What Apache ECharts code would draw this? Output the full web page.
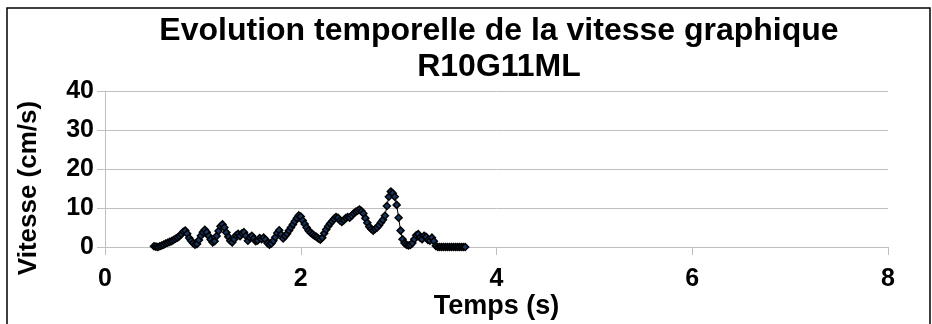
<!DOCTYPE html>
<html>
<head>
<meta charset="utf-8">
<script src="https://cdn.jsdelivr.net/npm/echarts@6/dist/echarts.min.js"></script>
<style>
  html, body { margin: 0; padding: 0; background: #fff; }
  #chart { width: 932px; height: 324px; }
</style>
</head>
<body>
<div id="chart"></div>
<script>
// time (s)
const temps = [
  0.50, 0.52, 0.54, 0.56, 0.58, 0.60, 0.62, 0.64, 0.66, 0.68,
  0.70, 0.72, 0.74, 0.76, 0.78, 0.80, 0.82, 0.84, 0.86, 0.88,
  0.90, 0.92, 0.94, 0.96, 0.98, 1.00, 1.02, 1.04, 1.06, 1.08,
  1.10, 1.12, 1.14, 1.16, 1.18, 1.20, 1.22, 1.24, 1.26, 1.28,
  1.30, 1.32, 1.34, 1.36, 1.38, 1.40, 1.42, 1.44, 1.46, 1.48,
  1.50, 1.52, 1.54, 1.56, 1.58, 1.60, 1.62, 1.64, 1.66, 1.68,
  1.70, 1.72, 1.74, 1.76, 1.78, 1.80, 1.82, 1.84, 1.86, 1.88,
  1.90, 1.92, 1.94, 1.96, 1.98, 2.00, 2.02, 2.04, 2.06, 2.08,
  2.10, 2.12, 2.14, 2.16, 2.18, 2.20, 2.22, 2.24, 2.26, 2.28,
  2.30, 2.32, 2.34, 2.36, 2.38, 2.40, 2.42, 2.44, 2.46, 2.48,
  2.50, 2.52, 2.54, 2.56, 2.58, 2.60, 2.62, 2.64, 2.66, 2.68,
  2.70, 2.72, 2.74, 2.76, 2.78, 2.80, 2.82, 2.84, 2.86, 2.88,
  2.90, 2.92, 2.94, 2.96, 2.98, 3.00, 3.02, 3.04, 3.06, 3.08,
  3.10, 3.12, 3.14, 3.16, 3.18, 3.20, 3.22, 3.24, 3.26, 3.28,
  3.30, 3.32, 3.34, 3.36, 3.38, 3.40, 3.42, 3.44, 3.46, 3.48,
  3.50, 3.52, 3.54, 3.56, 3.58, 3.60, 3.62, 3.64, 3.66, 3.68
];

// speed (cm/s)
const vitesse = [
  0.2, 0.1, 0.0, 0.2, 0.4, 0.6, 0.9, 1.1, 1.3, 1.5,
  1.8, 2.1, 2.4, 2.8, 3.3, 3.9, 4.2, 3.4, 2.3, 1.6,
  1.0, 0.6, 0.8, 1.8, 2.9, 3.8, 4.4, 3.8, 2.8, 1.9,
  1.2, 1.5, 2.8, 4.1, 5.3, 5.8, 5.0, 3.7, 2.6, 1.6,
  1.2, 2.0, 3.0, 3.4, 2.8, 3.5, 3.8, 2.9, 1.6, 2.4,
  2.9, 2.2, 1.5, 1.7, 2.3, 2.0, 2.4, 1.9, 1.0, 0.6,
  0.9, 1.6, 2.5, 3.6, 4.3, 3.2, 2.2, 2.8, 3.4, 4.2,
  5.0, 5.8, 6.6, 7.4, 8.1, 7.8, 6.8, 5.9, 5.0, 4.2,
  3.7, 3.3, 2.9, 2.6, 2.2, 1.9, 2.4, 3.5, 4.5, 5.3,
  6.0, 6.6, 7.2, 7.7, 7.5, 6.8, 6.4, 6.9, 7.4, 7.7,
  7.5, 8.0, 8.6, 9.0, 9.3, 9.6, 9.2, 8.6, 7.4, 6.2,
  5.2, 4.6, 4.2, 4.6, 5.0, 5.6, 6.3, 7.0, 8.0, 10.5,
  12.9, 14.2, 13.8, 12.9, 10.8, 7.5, 4.2, 2.0, 1.0, 0.6,
  0.4, 0.5, 1.0, 2.0, 3.0, 3.3, 2.4, 2.0, 2.9, 2.6,
  1.8, 1.6, 2.4, 1.5, 0.3, 0.0, 0.0, 0.0, 0.0, 0.0,
  0.0, 0.0, 0.0, 0.0, 0.0, 0.0, 0.0, 0.0, 0.0, 0.0
];

const titleLines = ['Evolution temporelle de la vitesse graphique', 'R10G11ML'];

const font = 'Liberation Sans, Arial, sans-serif';
const grey = '#bfbfbf';

const chart = echarts.init(document.getElementById('chart'), null, { renderer: 'canvas' });

chart.setOption({
  animation: false,
  backgroundColor: '#fff',
  title: {
    text: titleLines.join('\n'),
    left: 494,
    textAlign: 'center',
    top: 8,
    textStyle: {
      fontFamily: font,
      fontWeight: 'bold',
      fontSize: 32,
      lineHeight: 36,
      color: '#000'
    }
  },
  graphic: [{
    type: 'rect',
    shape: { x: 7, y: 8, width: 923, height: 330 },
    style: { fill: 'none', stroke: '#000', lineWidth: 1.5 },
    silent: true
  }],
  grid: { left: 105, right: 44, top: 91, bottom: 77 },
  xAxis: {
    type: 'value',
    min: 0,
    max: 8,
    interval: 2,
    name: 'Temps (s)',
    nameLocation: 'middle',
    nameGap: 43,
    nameTextStyle: { fontFamily: font, fontWeight: 'bold', fontSize: 27, color: '#000' },
    axisLine: { show: true, lineStyle: { color: grey, width: 1 } },
    axisTick: { show: true, length: 8, lineStyle: { color: grey } },
    axisLabel: { margin: 20, fontFamily: font, fontWeight: 'bold', fontSize: 25, color: '#000' },
    splitLine: { show: false }
  },
  yAxis: {
    type: 'value',
    min: 0,
    max: 40,
    interval: 10,
    name: 'Vitesse (cm/s)',
    nameLocation: 'middle',
    nameGap: 63,
    nameRotate: 90,
    nameTextStyle: { fontFamily: font, fontWeight: 'bold', fontSize: 26, color: '#000', padding: [0, 38, 0, 0] },
    axisLine: { show: true, lineStyle: { color: grey, width: 1 } },
    axisTick: { show: true, length: 8, lineStyle: { color: grey } },
    axisLabel: { margin: 11, fontFamily: font, fontWeight: 'bold', fontSize: 25, color: '#000' },
    splitLine: { show: true, lineStyle: { color: grey, width: 1 } }
  },
  series: [{
    type: 'line',
    data: temps.map((t, i) => [t, vitesse[i]]),
    symbol: 'diamond',
    symbolSize: 7,
    showAllSymbol: true,
    lineStyle: { color: '#000', width: 1 },
    itemStyle: { color: '#173562', borderColor: '#000', borderWidth: 1.5 }
  }]
});
</script>
</body>
</html>
